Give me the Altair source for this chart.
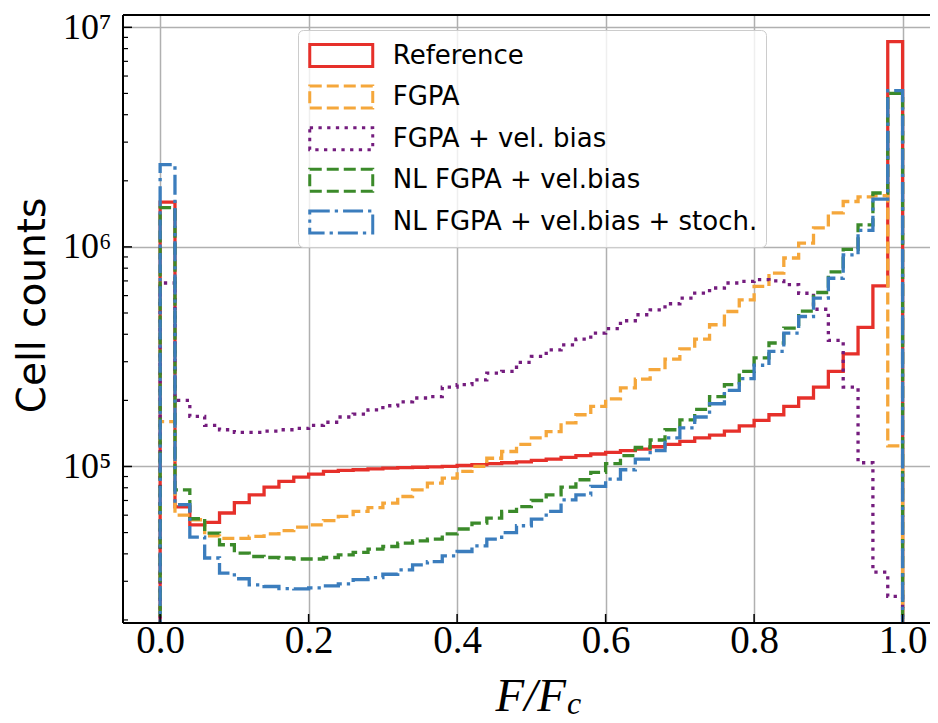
import altair as alt
import pandas as pd

# ---------------- data ----------------
series_names = [
    "Reference",
    "FGPA",
    "FGPA + vel. bias",
    "NL FGPA + vel.bias",
    "NL FGPA + vel.bias + stoch.",
]
series_colors = ["#e6302a", "#f5a73b", "#741c7e", "#3b8a2a", "#3b7dbd"]
series_dashes = [[1, 0], [12, 5], [3.3, 5.4], [12, 5], [20, 5, 3.3, 5]]

# 50 bins of width 0.02 on [0, 1]
bin_edges = [round(0.02 * i, 2) for i in range(51)]

reference = [
    1.6e6, 6.55e4, 5.42e4, 5.56e4, 6.14e4, 6.85e4, 7.43e4, 8.05e4, 8.55e4, 8.95e4,
    9.23e4, 9.5e4, 9.6e4, 9.66e4, 9.76e4, 9.83e4, 9.88e4, 9.92e4, 9.96e4, 1.0e5,
    1.01e5, 1.02e5, 1.03e5, 1.04e5, 1.05e5, 1.065e5, 1.08e5, 1.10e5, 1.12e5, 1.14e5,
    1.16e5, 1.18e5, 1.20e5, 1.23e5, 1.26e5, 1.30e5, 1.35e5, 1.39e5, 1.45e5, 1.53e5,
    1.62e5, 1.72e5, 1.88e5, 2.05e5, 2.30e5, 2.71e5, 3.26e5, 4.3e5, 6.65e5, 8.6e6,
]
fgpa = [
    1.6e5, 6.0e4, 5.72e4, 4.83e4, 4.70e4, 4.70e4, 4.80e4, 4.93e4, 5.10e4, 5.29e4,
    5.42e4, 5.67e4, 5.92e4, 6.24e4, 6.5e4, 6.81e4, 7.3e4, 7.83e4, 8.4e4, 8.85e4,
    9.5e4, 1.0e5, 1.09e5, 1.17e5, 1.26e5, 1.35e5, 1.44e5, 1.58e5, 1.72e5, 1.88e5,
    2.03e5, 2.28e5, 2.50e5, 2.76e5, 3.08e5, 3.43e5, 3.8e5, 4.42e5, 5.08e5, 5.74e5,
    6.61e5, 7.6e5, 8.9e5, 1.04e6, 1.22e6, 1.43e6, 1.61e6, 1.69e6, 1.71e6, 1.24e5,
]
fgpa_velbias = [
    6.85e5, 2.0e5, 1.69e5, 1.54e5, 1.47e5, 1.43e5, 1.43e5, 1.45e5, 1.47e5, 1.49e5,
    1.54e5, 1.59e5, 1.68e5, 1.73e5, 1.81e5, 1.89e5, 1.97e5, 2.05e5, 2.08e5, 2.30e5,
    2.36e5, 2.48e5, 2.66e5, 2.71e5, 2.98e5, 3.17e5, 3.40e5, 3.58e5, 3.80e5, 4.05e5,
    4.24e5, 4.61e5, 4.91e5, 5.17e5, 5.51e5, 5.85e5, 6.16e5, 6.5e5, 6.85e5, 6.96e5,
    7.09e5, 7.0e5, 6.73e5, 6.15e5, 5.2e5, 3.75e5, 2.3e5, 1.04e5, 3.3e4, 2.56e4,
]
nl_fgpa = [
    1.51e6, 7.83e4, 5.78e4, 4.97e4, 4.40e4, 4.03e4, 3.89e4, 3.85e4, 3.83e4, 3.79e4,
    3.79e4, 3.85e4, 3.96e4, 4.06e4, 4.20e4, 4.32e4, 4.48e4, 4.58e4, 4.67e4, 4.93e4,
    5.19e4, 5.52e4, 5.82e4, 6.24e4, 6.57e4, 7.0e4, 7.43e4, 8.05e4, 8.7e4, 9.4e4,
    1.03e5, 1.12e5, 1.22e5, 1.32e5, 1.47e5, 1.63e5, 1.82e5, 2.08e5, 2.36e5, 2.71e5,
    3.12e5, 3.65e5, 4.27e5, 5.1e5, 6.2e5, 7.7e5, 9.75e5, 1.26e6, 1.76e6, 5.0e6,
]
nl_fgpa_stoch = [
    2.37e6, 6.7e4, 4.77e4, 3.83e4, 3.27e4, 3.08e4, 2.89e4, 2.84e4, 2.78e4, 2.77e4,
    2.80e4, 2.86e4, 2.92e4, 3.05e4, 3.12e4, 3.23e4, 3.38e4, 3.56e4, 3.69e4, 3.92e4,
    4.10e4, 4.35e4, 4.67e4, 5.0e4, 5.37e4, 5.76e4, 6.24e4, 7.05e4, 7.43e4, 8.11e4,
    8.75e4, 9.66e4, 1.08e5, 1.18e5, 1.35e5, 1.50e5, 1.68e5, 1.93e5, 2.22e5, 2.51e5,
    2.89e5, 3.34e5, 4.05e5, 4.82e5, 5.85e5, 7.2e5, 9.2e5, 1.19e6, 1.65e6, 5.15e6,
]
all_series = [reference, fgpa, fgpa_velbias, nl_fgpa, nl_fgpa_stoch]

x_ticks = [0.0, 0.2, 0.4, 0.6, 0.8, 1.0]
y_major = [1e5, 1e6, 1e7]
y_minor = [m * 10 ** e for e in (4, 5, 6) for m in range(2, 10)]
y_minor = [v for v in y_minor if 1.94e4 <= v <= 1.13e7]

# ---------------- step outlines (histtype="step") ----------------
floor_value = 1e3  # below the visible range, clipped
rows = []
for name, vals in zip(series_names, all_series):
    pts = [(bin_edges[0], floor_value)]
    for i, v in enumerate(vals):
        pts.append((bin_edges[i], v))
        pts.append((bin_edges[i + 1], v))
    pts.append((bin_edges[-1], floor_value))
    for k, (xv, yv) in enumerate(pts):
        rows.append({"series": name, "x": xv, "y": yv, "k": k})
df = pd.DataFrame(rows)

W, H = 807, 608
x_scale = alt.Scale(domain=[-0.05, 1.0369], nice=False, zero=False)
y_scale = alt.Scale(type="log", domain=[1.937e4, 1.138e7], nice=False)

x_axis = alt.Axis(
    values=x_ticks, format=".1f", ticks=False, domain=False, grid=True,
    gridColor="#b0b0b0", gridWidth=1.5, labelFont="Liberation Serif",
    labelFontSize=39, labelColor="black", labelPadding=-2, title=None,
)
y_axis = alt.Axis(
    values=y_major, ticks=False, domain=False, grid=True,
    gridColor="#b0b0b0", gridWidth=1.5, labelFont="Liberation Serif",
    labelFontSize=36, labelColor="black", labelPadding=12, labelBaseline="middle",
    labelExpr="datum.value >= 1e7 ? '10\u2077' : (datum.value >= 1e6 ? '10\u2076' : '10\u2075')",
    title="Cell counts", titleFont="DejaVu Sans", titleFontSize=39, titleFontWeight="normal",
    titleColor="black", titleAngle=270, titleX=-91, titleY=290, titleAlign="center",
    titleBaseline="middle",
)

legend = alt.Legend(
    title=None, orient="none", legendX=175, legendY=15,
    symbolType="M-2,-0.7L2,-0.7L2,0.7L-2,0.7Z", symbolSize=992,
    symbolOffset=17.75, symbolStrokeWidth=3, symbolFillColor="transparent",
    labelFont="DejaVu Sans", labelFontSize=26, labelColor="black", labelLimit=700,
    labelOffset=34, rowPadding=6.6, padding=8,
    fillColor="rgba(255,255,255,0.8)", strokeColor="#cccccc", cornerRadius=5,
)

color_enc = alt.Color("series:N", scale=alt.Scale(domain=series_names, range=series_colors),
                      legend=legend, sort=series_names)
dash_enc = alt.StrokeDash("series:N", scale=alt.Scale(domain=series_names, range=series_dashes),
                          legend=legend, sort=series_names)

base = alt.Chart(df).mark_line(strokeWidth=3.3, clip=True, interpolate="linear").encode(
    x=alt.X("x:Q", scale=x_scale, axis=x_axis),
    y=alt.Y("y:Q", scale=y_scale, axis=y_axis),
    color=color_enc,
    strokeDash=dash_enc,
    order="k:Q",
)
line_layers = [base.transform_filter(alt.datum.series == s) for s in series_names]

# inward tick marks
xt = alt.Chart(pd.DataFrame({"x": x_ticks})).mark_rule(color="black", strokeWidth=1.5).encode(
    x=alt.X("x:Q", scale=x_scale, axis=x_axis), y=alt.value(H), y2=alt.value(H - 9)
)
yt_major = alt.Chart(pd.DataFrame({"y": y_major})).mark_rule(color="black", strokeWidth=1.5).encode(
    y=alt.Y("y:Q", scale=y_scale, axis=y_axis), x=alt.value(0), x2=alt.value(9)
)
yt_minor = alt.Chart(pd.DataFrame({"y": y_minor})).mark_rule(color="black", strokeWidth=1.2).encode(
    y=alt.Y("y:Q", scale=y_scale, axis=y_axis), x=alt.value(0), x2=alt.value(5)
)

# spines (left, top, bottom; the right one lies beyond the picture in the reference)
spine_left = alt.Chart(pd.DataFrame({"s": [0]})).mark_rule(color="black", strokeWidth=2).encode(
    x=alt.value(0), y=alt.value(0), y2=alt.value(H)
)
spine_top = alt.Chart(pd.DataFrame({"s": [0]})).mark_rule(color="black", strokeWidth=2).encode(
    y=alt.value(0), x=alt.value(0), x2=alt.value(W)
)
spine_bottom = alt.Chart(pd.DataFrame({"s": [0]})).mark_rule(color="black", strokeWidth=2).encode(
    y=alt.value(H), x=alt.value(0), x2=alt.value(W)
)

# x-axis title  F/F_c
xtitle_main = alt.Chart(pd.DataFrame({"t": ["F/F"]})).mark_text(
    font="Liberation Serif", fontStyle="italic", fontSize=47, align="right",
    baseline="alphabetic", color="black",
).encode(text="t:N", x=alt.value(443), y=alt.value(696))
xtitle_sub = alt.Chart(pd.DataFrame({"t": ["c"]})).mark_text(
    font="Liberation Serif", fontStyle="italic", fontSize=32, align="left",
    baseline="alphabetic", color="black",
).encode(text="t:N", x=alt.value(444), y=alt.value(699))

chart = alt.layer(
    *line_layers, xt, yt_major, yt_minor, spine_left, spine_top, spine_bottom,
    xtitle_main, xtitle_sub
).properties(
    width=W, height=H,
    autosize=alt.AutoSizeParams(type="none"),
    padding={"left": 115, "top": 7, "right": 0, "bottom": 100},
).configure_view(
    stroke=None
).configure(background="white")

chart.save("out.html", embed_options={"renderer": "svg", "actions": False})
